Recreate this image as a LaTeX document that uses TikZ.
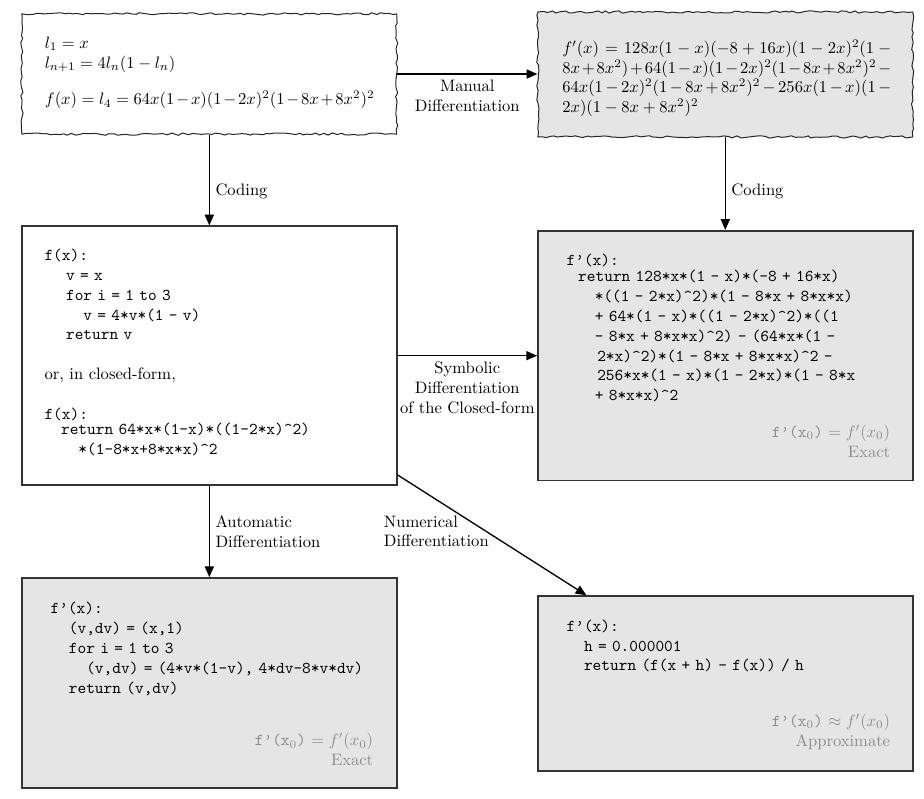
\documentclass[tikz,border=0pt]{standalone}
\usepackage{amsmath}
\usetikzlibrary{arrows.meta,decorations.pathmorphing}

\newcommand{\codefx}{\texttt{f’(x}$_0$\texttt{)}}
\newcommand{\codefont}{\ttfamily\fontdimen2\font 3.2pt\relax}

\tikzset{
  box/.style={draw=black!80, line width=1pt, minimum width=7.95cm},
  torn/.style={draw=black!85, line width=0.6pt, minimum width=7.95cm, decorate, decoration={random steps, segment length=2.5pt, amplitude=0.7pt}},
  shade/.style={fill=black!10},
  code/.style={anchor=north west, align=left, inner sep=0pt, font=\codefont},
  note/.style={anchor=south east, align=right, inner sep=0pt, text=black!45},
  arr/.style={line width=0.8pt, -{Triangle[length=6.5pt,width=5.5pt]}},
  lbl/.style={align=center}
}

\begin{document}
\begin{tikzpicture}

\useasboundingbox (0,0) rectangle (19.6,16.93);

\node(rule)[torn, fill=white, minimum height=2.55cm] at (4.44,15.36) {};
\node(manual)[torn, shade, minimum height=2.65cm] at (15.385,15.35) {};
\node(prog)[box, minimum height=5.49cm] at (4.44,9.385) {};
\node(symb)[box, shade, minimum height=5.30cm] at (15.385,9.385) {};
\node(autod)[box, shade, minimum height=4.46cm] at (4.44,2.44) {};
\node(numd)[box, shade, minimum height=3.71cm] at (15.385,2.43) {};

\node(ruletxt)[anchor=north west, align=left, inner sep=0pt] at ([shift={(0.49,-0.49)}]rule.north west)
  {$l_1 = x$\\ $l_{n+1} = 4l_n(1-l_n)$\\[10pt]
   {\medmuskip=2mu $f(x) = l_4 = 64x(1-x)(1-2x)^2(1-8x+8x^2)^2$}};

\node(manualtxt)[anchor=north west, inner sep=0pt, text width=6.98cm, align=justify] at ([shift={(0.52,-0.59)}]manual.north west)
  {\noindent$f'(x) = 128x(1-x)(-8+16x)(1-2x)^2(1-\penalty-10000 8x+8x^2)+64(1-x)(1-2x)^2(1-8x+8x^2)^2-\penalty-10000 64x(1-2x)^2(1-8x+8x^2)^2-256x(1-x)(1-\penalty-10000 2x)(1-8x+8x^2)^2$};

\node(progtxt)[code] at ([shift={(0.49,-0.49)}]prog.north west)
  {f(x):\\
   \hspace*{13pt}v = x\\
   \hspace*{13pt}for i = 1 to 3\\
   \hspace*{23.5pt}v = 4*v*(1 - v)\\
   \hspace*{13pt}return v\\[12pt]
   {\rmfamily or, in closed-form,}\\[12pt]
   f(x):\\[-3pt]
   \hspace*{10pt}return 64*x*(1-x)*((1-2*x)\textasciicircum2)\\
   \hspace*{20.5pt}*(1-8*x+8*x*x)\textasciicircum2};

\node(symbtxt)[code] at ([shift={(0.62,-0.51)}]symb.north west)
  {f’(x):\\[-2.5pt]
   \hspace*{7pt}return 128*x*(1 - x)*(-8 + 16*x)\\
   \hspace*{17pt}*((1 - 2*x)\textasciicircum2)*(1 - 8*x + 8*x*x)\\
   \hspace*{17pt}+ 64*(1 - x)*((1 - 2*x)\textasciicircum2)*((1\\
   \hspace*{17pt}- 8*x + 8*x*x)\textasciicircum2) - (64*x*(1 -\\
   \hspace*{18.5pt}2*x)\textasciicircum2)*(1 - 8*x + 8*x*x)\textasciicircum2 -\\
   \hspace*{18.5pt}256*x*(1 - x)*(1 - 2*x)*(1 - 8*x\\
   \hspace*{17pt}+ 8*x*x)\textasciicircum2};
\node(symbnote)[note] at ([shift={(-0.49,0.5)}]symb.south east) {\codefx{} $= f'(x_0)$\\Exact};

\node(autotxt)[code] at ([shift={(0.62,-0.53)}]autod.north west)
  {f’(x):\\
   \hspace*{11pt}(v,dv) = (x,1)\\
   \hspace*{11pt}for i = 1 to 3\\
   \hspace*{21.5pt}(v,dv) = (4*v*(1-v), 4*dv-8*v*dv)\\
   \hspace*{11pt}return (v,dv)};
\node(autonote)[note] at ([shift={(-0.51,0.49)}]autod.south east) {\codefx{} $= f'(x_0)$\\Exact};

\node(numtxt)[code] at ([shift={(0.62,-0.51)}]numd.north west)
  {f’(x):\\
   \hspace*{10.5pt}h = 0.000001\\
   \hspace*{10.5pt}return (f(x + h) - f(x)) / h};
\node(numnote)[note] at ([shift={(-0.49,0.47)}]numd.south east) {\codefx{} $\approx f'(x_0)$\\Approximate};

\draw[arr] (rule.east) -- node[lbl, below]{Manual\\Differentiation} (manual.west |- rule.east);
\draw[arr] (rule) -- node[right, pos=0.62]{Coding} (prog);
\draw[arr] (manual) -- node[right, pos=0.58]{Coding} (symb);
\draw[arr] (prog) -- node[lbl, below]{Symbolic\\Differentiation\\of the Closed-form} (symb);
\draw[arr] (prog) -- node[right, align=left]{Automatic\\Differentiation} (autod);
\draw[arr] (prog) -- (numd);
\node(numlbl)[align=left, anchor=west] at (8.02,5.66) {Numerical\\Differentiation};

\end{tikzpicture}
\end{document}
